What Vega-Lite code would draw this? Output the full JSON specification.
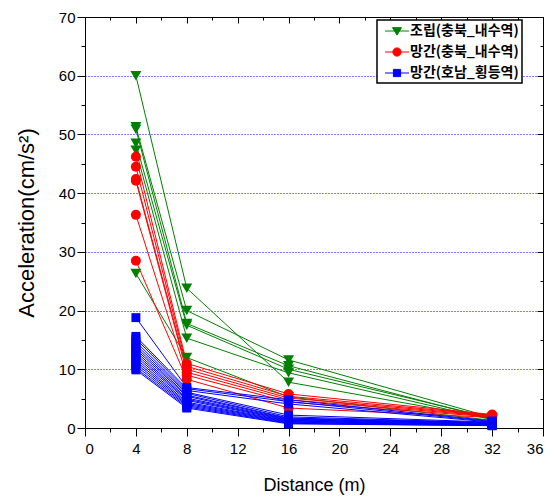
{
  "$schema": "https://vega.github.io/schema/vega-lite/v6.json",
  "width": 458,
  "height": 411,
  "autosize": "none",
  "padding": {"left": 85, "top": 17, "right": 11, "bottom": 69},
  "config": {
    "view": {"stroke": "black", "strokeWidth": 1},
    "font": "Liberation Sans",
    "axis": {"domainColor": "black", "tickColor": "black", "labelColor": "black", "titleColor": "black", "labelFont": "Liberation Sans", "titleFont": "Liberation Sans", "titleFontWeight": "normal", "labelFontSize": 15}
  },
  "data": {"values": [
    {"series": "조립(충북_내수역)", "run": "G1", "distance": 4, "acc": 60.0}, {"series": "조립(충북_내수역)", "run": "G1", "distance": 8, "acc": 23.8}, {"series": "조립(충북_내수역)", "run": "G1", "distance": 16, "acc": 7.8}, {"series": "조립(충북_내수역)", "run": "G1", "distance": 32, "acc": 1.6},
    {"series": "조립(충북_내수역)", "run": "G2", "distance": 4, "acc": 51.3}, {"series": "조립(충북_내수역)", "run": "G2", "distance": 8, "acc": 20.0}, {"series": "조립(충북_내수역)", "run": "G2", "distance": 16, "acc": 11.6}, {"series": "조립(충북_내수역)", "run": "G2", "distance": 32, "acc": 1.8},
    {"series": "조립(충북_내수역)", "run": "G3", "distance": 4, "acc": 50.9}, {"series": "조립(충북_내수역)", "run": "G3", "distance": 8, "acc": 17.8}, {"series": "조립(충북_내수역)", "run": "G3", "distance": 16, "acc": 10.6}, {"series": "조립(충북_내수역)", "run": "G3", "distance": 32, "acc": 1.5},
    {"series": "조립(충북_내수역)", "run": "G4", "distance": 4, "acc": 48.5}, {"series": "조립(충북_내수역)", "run": "G4", "distance": 8, "acc": 17.5}, {"series": "조립(충북_내수역)", "run": "G4", "distance": 16, "acc": 10.0}, {"series": "조립(충북_내수역)", "run": "G4", "distance": 32, "acc": 1.7},
    {"series": "조립(충북_내수역)", "run": "G5", "distance": 4, "acc": 47.3}, {"series": "조립(충북_내수역)", "run": "G5", "distance": 8, "acc": 15.3}, {"series": "조립(충북_내수역)", "run": "G5", "distance": 16, "acc": 9.4}, {"series": "조립(충북_내수역)", "run": "G5", "distance": 32, "acc": 1.4},
    {"series": "조립(충북_내수역)", "run": "G6", "distance": 4, "acc": 26.3}, {"series": "조립(충북_내수역)", "run": "G6", "distance": 8, "acc": 12.0}, {"series": "조립(충북_내수역)", "run": "G6", "distance": 16, "acc": 5.3}, {"series": "조립(충북_내수역)", "run": "G6", "distance": 32, "acc": 1.3},
    {"series": "망간(충북_내수역)", "run": "R1", "distance": 4, "acc": 46.2}, {"series": "망간(충북_내수역)", "run": "R1", "distance": 8, "acc": 11.0}, {"series": "망간(충북_내수역)", "run": "R1", "distance": 16, "acc": 5.8}, {"series": "망간(충북_내수역)", "run": "R1", "distance": 32, "acc": 2.3},
    {"series": "망간(충북_내수역)", "run": "R2", "distance": 4, "acc": 44.5}, {"series": "망간(충북_내수역)", "run": "R2", "distance": 8, "acc": 10.5}, {"series": "망간(충북_내수역)", "run": "R2", "distance": 16, "acc": 5.4}, {"series": "망간(충북_내수역)", "run": "R2", "distance": 32, "acc": 2.2},
    {"series": "망간(충북_내수역)", "run": "R3", "distance": 4, "acc": 42.4}, {"series": "망간(충북_내수역)", "run": "R3", "distance": 8, "acc": 10.0}, {"series": "망간(충북_내수역)", "run": "R3", "distance": 16, "acc": 5.1}, {"series": "망간(충북_내수역)", "run": "R3", "distance": 32, "acc": 2.1},
    {"series": "망간(충북_내수역)", "run": "R4", "distance": 4, "acc": 42.1}, {"series": "망간(충북_내수역)", "run": "R4", "distance": 8, "acc": 9.5}, {"series": "망간(충북_내수역)", "run": "R4", "distance": 16, "acc": 4.8}, {"series": "망간(충북_내수역)", "run": "R4", "distance": 32, "acc": 2.0},
    {"series": "망간(충북_내수역)", "run": "R5", "distance": 4, "acc": 36.3}, {"series": "망간(충북_내수역)", "run": "R5", "distance": 8, "acc": 9.0}, {"series": "망간(충북_내수역)", "run": "R5", "distance": 16, "acc": 4.4}, {"series": "망간(충북_내수역)", "run": "R5", "distance": 32, "acc": 1.9},
    {"series": "망간(충북_내수역)", "run": "R6", "distance": 4, "acc": 28.5}, {"series": "망간(충북_내수역)", "run": "R6", "distance": 8, "acc": 8.3}, {"series": "망간(충북_내수역)", "run": "R6", "distance": 16, "acc": 3.4}, {"series": "망간(충북_내수역)", "run": "R6", "distance": 32, "acc": 1.8},
    {"series": "망간(호남_횡등역)", "run": "B1", "distance": 4, "acc": 18.8}, {"series": "망간(호남_횡등역)", "run": "B1", "distance": 8, "acc": 6.9}, {"series": "망간(호남_횡등역)", "run": "B1", "distance": 16, "acc": 4.8}, {"series": "망간(호남_횡등역)", "run": "B1", "distance": 32, "acc": 1.2},
    {"series": "망간(호남_횡등역)", "run": "B2", "distance": 4, "acc": 15.6}, {"series": "망간(호남_횡등역)", "run": "B2", "distance": 8, "acc": 6.7}, {"series": "망간(호남_횡등역)", "run": "B2", "distance": 16, "acc": 4.5}, {"series": "망간(호남_횡등역)", "run": "B2", "distance": 32, "acc": 1.1},
    {"series": "망간(호남_횡등역)", "run": "B3", "distance": 4, "acc": 15.2}, {"series": "망간(호남_횡등역)", "run": "B3", "distance": 8, "acc": 6.4}, {"series": "망간(호남_횡등역)", "run": "B3", "distance": 16, "acc": 4.1}, {"series": "망간(호남_횡등역)", "run": "B3", "distance": 32, "acc": 1.0},
    {"series": "망간(호남_횡등역)", "run": "B4", "distance": 4, "acc": 14.7}, {"series": "망간(호남_횡등역)", "run": "B4", "distance": 8, "acc": 6.1}, {"series": "망간(호남_횡등역)", "run": "B4", "distance": 16, "acc": 2.2}, {"series": "망간(호남_횡등역)", "run": "B4", "distance": 32, "acc": 1.0},
    {"series": "망간(호남_횡등역)", "run": "B5", "distance": 4, "acc": 14.2}, {"series": "망간(호남_횡등역)", "run": "B5", "distance": 8, "acc": 5.9}, {"series": "망간(호남_횡등역)", "run": "B5", "distance": 16, "acc": 1.9}, {"series": "망간(호남_횡등역)", "run": "B5", "distance": 32, "acc": 0.9},
    {"series": "망간(호남_횡등역)", "run": "B6", "distance": 4, "acc": 13.8}, {"series": "망간(호남_횡등역)", "run": "B6", "distance": 8, "acc": 5.6}, {"series": "망간(호남_횡등역)", "run": "B6", "distance": 16, "acc": 1.7}, {"series": "망간(호남_횡등역)", "run": "B6", "distance": 32, "acc": 0.9},
    {"series": "망간(호남_횡등역)", "run": "B7", "distance": 4, "acc": 13.4}, {"series": "망간(호남_횡등역)", "run": "B7", "distance": 8, "acc": 5.4}, {"series": "망간(호남_횡등역)", "run": "B7", "distance": 16, "acc": 1.6}, {"series": "망간(호남_횡등역)", "run": "B7", "distance": 32, "acc": 0.8},
    {"series": "망간(호남_횡등역)", "run": "B8", "distance": 4, "acc": 13.0}, {"series": "망간(호남_횡등역)", "run": "B8", "distance": 8, "acc": 5.1}, {"series": "망간(호남_횡등역)", "run": "B8", "distance": 16, "acc": 1.5}, {"series": "망간(호남_횡등역)", "run": "B8", "distance": 32, "acc": 0.8},
    {"series": "망간(호남_횡등역)", "run": "B9", "distance": 4, "acc": 12.6}, {"series": "망간(호남_횡등역)", "run": "B9", "distance": 8, "acc": 4.9}, {"series": "망간(호남_횡등역)", "run": "B9", "distance": 16, "acc": 1.4}, {"series": "망간(호남_횡등역)", "run": "B9", "distance": 32, "acc": 0.7},
    {"series": "망간(호남_횡등역)", "run": "B10", "distance": 4, "acc": 12.2}, {"series": "망간(호남_횡등역)", "run": "B10", "distance": 8, "acc": 4.7}, {"series": "망간(호남_횡등역)", "run": "B10", "distance": 16, "acc": 1.3}, {"series": "망간(호남_횡등역)", "run": "B10", "distance": 32, "acc": 0.7},
    {"series": "망간(호남_횡등역)", "run": "B11", "distance": 4, "acc": 11.8}, {"series": "망간(호남_횡등역)", "run": "B11", "distance": 8, "acc": 4.4}, {"series": "망간(호남_횡등역)", "run": "B11", "distance": 16, "acc": 1.2}, {"series": "망간(호남_횡등역)", "run": "B11", "distance": 32, "acc": 0.6},
    {"series": "망간(호남_횡등역)", "run": "B12", "distance": 4, "acc": 11.4}, {"series": "망간(호남_횡등역)", "run": "B12", "distance": 8, "acc": 4.2}, {"series": "망간(호남_횡등역)", "run": "B12", "distance": 16, "acc": 1.1}, {"series": "망간(호남_횡등역)", "run": "B12", "distance": 32, "acc": 0.6},
    {"series": "망간(호남_횡등역)", "run": "B13", "distance": 4, "acc": 11.0}, {"series": "망간(호남_횡등역)", "run": "B13", "distance": 8, "acc": 4.0}, {"series": "망간(호남_횡등역)", "run": "B13", "distance": 16, "acc": 1.0}, {"series": "망간(호남_횡등역)", "run": "B13", "distance": 32, "acc": 0.5},
    {"series": "망간(호남_횡등역)", "run": "B14", "distance": 4, "acc": 10.6}, {"series": "망간(호남_횡등역)", "run": "B14", "distance": 8, "acc": 3.8}, {"series": "망간(호남_횡등역)", "run": "B14", "distance": 16, "acc": 0.9}, {"series": "망간(호남_횡등역)", "run": "B14", "distance": 32, "acc": 0.5},
    {"series": "망간(호남_횡등역)", "run": "B15", "distance": 4, "acc": 10.2}, {"series": "망간(호남_횡등역)", "run": "B15", "distance": 8, "acc": 3.6}, {"series": "망간(호남_횡등역)", "run": "B15", "distance": 16, "acc": 0.8}, {"series": "망간(호남_횡등역)", "run": "B15", "distance": 32, "acc": 0.4},
    {"series": "망간(호남_횡등역)", "run": "B16", "distance": 4, "acc": 9.9}, {"series": "망간(호남_횡등역)", "run": "B16", "distance": 8, "acc": 3.4}, {"series": "망간(호남_횡등역)", "run": "B16", "distance": 16, "acc": 0.7}, {"series": "망간(호남_횡등역)", "run": "B16", "distance": 32, "acc": 0.4}
  ]},
  "layer": [
    {
      "mark": {"type": "line", "strokeWidth": 1, "clip": true},
      "encoding": {
        "x": {"field": "distance", "type": "quantitative", "scale": {"domain": [0, 36], "nice": false},
          "axis": {"orient": "top", "values": [0,2,4,6,8,10,12,14,16,18,20,22,24,26,28,30,32,34,36], "labels": false, "title": null, "grid": false, "domain": false,
            "tickSize": {"condition": {"test": "datum.value % 4 === 0", "value": -6}, "value": -3}}},
        "y": {"field": "acc", "type": "quantitative", "scale": {"domain": [0, 70], "nice": false},
          "axis": {"orient": "right", "values": [0,5,10,15,20,25,30,35,40,45,50,55,60,65,70], "labels": false, "title": null, "grid": false, "domain": false,
            "tickSize": {"condition": {"test": "datum.value % 10 === 0", "value": -6}, "value": -3}}},
        "color": {"field": "series", "type": "nominal",
          "scale": {"domain": ["조립(충북_내수역)", "망간(충북_내수역)", "망간(호남_횡등역)"], "range": ["#008000", "#ff0000", "#0000ff"]},
          "legend": {"title": null, "orient": "none", "legendX": 292, "legendY": 3, "strokeColor": "black", "fillColor": "white",
            "padding": 3, "rowPadding": 6, "labelFont": "Noto Sans CJK KR", "labelFontSize": 14, "labelFontWeight": "bold", "labelColor": "black",
            "symbolSize": 225, "symbolStrokeWidth": 1, "labelOffset": 14, "labelLimit": 300,
            "encode": {
              "legend": {"update": {"strokeWidth": {"value": 1.5}}},
              "symbols": {"update": {
              "shape": {"signal": "datum.index === 0 ? 'M-1.6,0L1.6,0M-0.6,-0.45L0.6,-0.45L0,0.55Z' : datum.index === 1 ? 'M-1.6,0L1.6,0M-0.55,0A0.55,0.55 0 1,0 0.55,0A0.55,0.55 0 1,0 -0.55,0Z' : 'M-1.6,0L1.6,0M-0.48,-0.48H0.48V0.48H-0.48Z'"},
              "x": {"value": 17},
              "fill": {"scale": "color", "field": "value"},
              "stroke": {"scale": "color", "field": "value"},
              "fillOpacity": {"value": 1},
              "strokeWidth": {"value": 1}
            }}}}},
        "detail": {"field": "run", "type": "nominal"},
        "order": {"field": "distance", "type": "quantitative"}
      }
    },
    {
      "mark": {"type": "point", "filled": true, "opacity": 1},
      "encoding": {
        "x": {"field": "distance", "type": "quantitative",
          "axis": {"orient": "bottom", "values": [0,2,4,6,8,10,12,14,16,18,20,22,24,26,28,30,32,34,36], "labelExpr": "datum.value % 4 === 0 ? datum.label : ''",
            "title": "Distance (m)", "titleFontSize": 18, "titlePadding": 20, "labelPadding": 5, "grid": false,
            "tickSize": {"condition": {"test": "datum.value % 4 === 0", "value": 8}, "value": 4}}},
        "y": {"field": "acc", "type": "quantitative",
          "axis": {"orient": "left", "values": [0,5,10,15,20,25,30,35,40,45,50,55,60,65,70], "labelExpr": "datum.value % 10 === 0 ? datum.label : ''",
            "title": "Acceleration(cm/s²)", "titleFontSize": 22, "titlePadding": 20, "labelPadding": 2,
            "grid": true, "gridColor": "#0000ff", "gridDash": [1, 2], "gridWidth": 1,
            "gridOpacity": {"condition": {"test": "datum.value % 10 === 0 && datum.value > 0 && datum.value < 70", "value": 1}, "value": 0},
            "tickSize": {"condition": {"test": "datum.value % 10 === 0", "value": 8}, "value": 4}}},
        "color": {"field": "series", "type": "nominal", "legend": null},
        "shape": {"field": "series", "type": "nominal", "scale": {"domain": ["조립(충북_내수역)", "망간(충북_내수역)", "망간(호남_횡등역)"], "range": ["triangle-down", "circle", "square"]}, "legend": null},
        "size": {"field": "series", "type": "nominal", "scale": {"domain": ["조립(충북_내수역)", "망간(충북_내수역)", "망간(호남_횡등역)"], "range": [120, 80, 64]}, "legend": null}
      }
    }
  ],
  "resolve": {"axis": {"x": "independent", "y": "independent"}, "legend": {"color": "independent", "shape": "independent", "size": "independent"}}
}
